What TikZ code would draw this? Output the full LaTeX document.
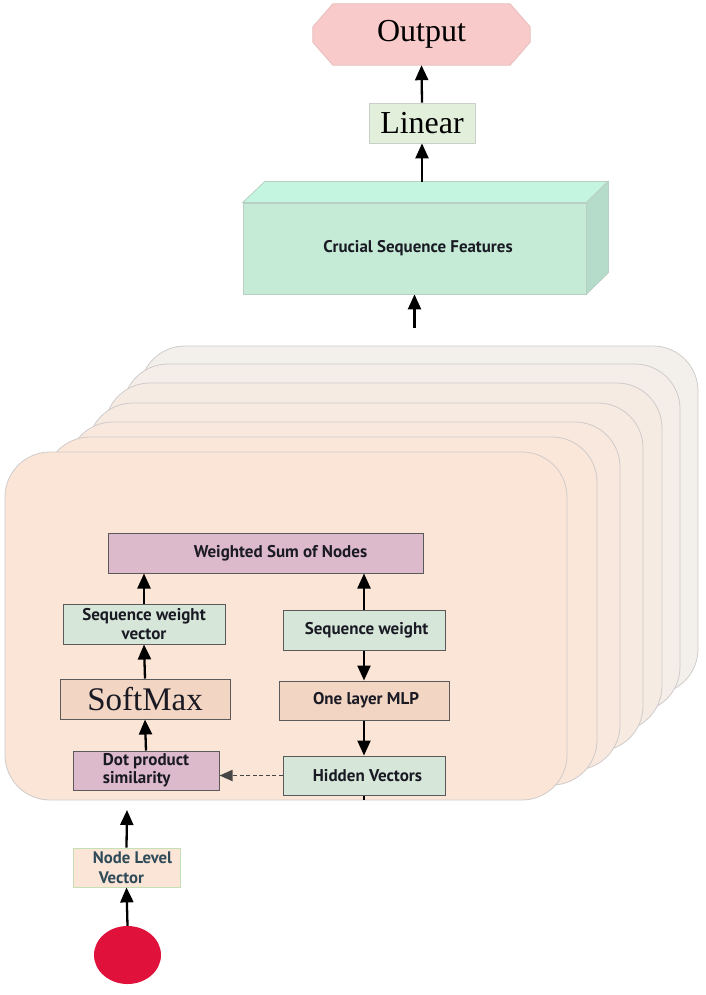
\documentclass[tikz,border=0pt]{standalone}
\usepackage{fontspec}
\setmainfont{Liberation Serif}
\newfontfamily\labfont{PT Sans}
\usetikzlibrary{arrows.meta,shapes.geometric,calc,backgrounds}
\definecolor{peach}{HTML}{FBE5D6}
\definecolor{backcard}{HTML}{F3EFEB}
\definecolor{cardedge}{HTML}{CFCBCB}
\definecolor{mauve}{HTML}{DCB9CB}
\definecolor{sage}{HTML}{D6E6D8}
\definecolor{tan}{HTML}{F2D5C2}
\definecolor{boxedge}{HTML}{5A5A5A}
\definecolor{mintfront}{HTML}{C5EBD7}
\definecolor{minttop}{HTML}{C3F5E0}
\definecolor{mintside}{HTML}{B5DCCA}
\definecolor{mintedge}{HTML}{B8D0C4}
\definecolor{pinkfill}{HTML}{F8CACA}
\definecolor{pinkedge}{HTML}{E8C0C0}
\definecolor{linfill}{HTML}{E2EFDA}
\definecolor{linedge}{HTML}{C8D0C8}
\definecolor{nlvedge}{HTML}{C5E0B4}
\definecolor{redball}{HTML}{E0123C}
\definecolor{labtext}{HTML}{1A1A24}
\definecolor{nlvtext}{HTML}{2E4A58}
\begin{document}
\begin{tikzpicture}[x=1pt,y=-1pt,
  arr/.style={line width=2.3pt,-{Triangle[length=15pt,width=13pt]}},
  dasharr/.style={line width=1.8pt,dash pattern=on 4pt off 2.5pt,gray!55!black,-{Triangle[length=13pt,width=11pt]}},
  ibox/.style={draw=boxedge,line width=1pt,inner sep=0pt,font=\labfont\bfseries\fontsize{17}{19}\selectfont,text=labtext,align=center},
  card/.style={draw=cardedge,line width=0.8pt,rounded corners=45pt}
]
\useasboundingbox (0,0) rectangle (706,995);

% stacked cards (back to front)
\def\cardL{{5,45,68,88,105,123,140}}
\def\cardR{{567,597,620,643,662,680,698}}
\def\cardT{{452,437,422,403,383,364,346}}
\foreach \i in {6,5,4,3,2,1,0}{
  \pgfmathsetmacro\L{\cardL[\i]}
  \pgfmathsetmacro\R{\cardR[\i]}
  \pgfmathsetmacro\T{\cardT[\i]}
  \pgfmathsetmacro\B{\T+348}
  \pgfmathsetmacro\mix{100-\i*16}
  \draw[card,fill=peach!\mix!backcard] (\L,\T) rectangle (\R,\B);
}

% output, linear, 3D box
\node[minimum width=217pt,minimum height=61pt,inner sep=0pt,
  font=\fontsize{32}{36}\selectfont] (out) at (421.5,34.5) {Output};
\begin{scope}[on background layer]
\draw[fill=pinkfill,draw=pinkedge,line width=0.8pt]
  ($(out.north west)+(20,0)$) -- ($(out.north east)+(-20,0)$) -- ($(out.north east)+(0,23)$)
  -- ($(out.south east)+(0,-23)$) -- ($(out.south east)+(-20,0)$) -- ($(out.south west)+(20,0)$)
  -- ($(out.south west)+(0,-23)$) -- ($(out.north west)+(0,23)$) -- cycle;
\end{scope}
\node[fill=linfill,draw=linedge,line width=0.8pt,minimum width=106pt,minimum height=40pt,inner sep=0pt,
  font=\fontsize{32}{36}\selectfont] (lin) at (422,123) {Linear};
\node[fill=mintfront,draw=mintedge,line width=0.8pt,minimum width=343pt,minimum height=91pt,inner sep=0pt,
  font=\labfont\bfseries\fontsize{16.9}{19}\selectfont,text=labtext] (csf) at (414.5,248.5) {\hspace*{7pt}Crucial Sequence Features};
\draw[fill=minttop,draw=mintedge,line width=0.8pt] (csf.north west) -- ++(22,-21) -- ++(343,0) -- (csf.north east) -- cycle;
\draw[fill=mintside,draw=mintedge,line width=0.8pt] (csf.north east) -- ++(22,-21) -- ++(0,91) -- (csf.south east) -- cycle;
\coordinate (csftop) at (422,182);
\coordinate (stackin) at (414.5,328);
\draw[arr] (csftop) -- (lin.south);
\draw[arr] (lin.north) -- (out.south);
\draw[arr] (stackin) -- (csf.south);

% inner boxes
\node[ibox,fill=mauve,minimum width=315pt,minimum height=40pt] (ws) at (265.5,553) {\hspace*{30pt}Weighted Sum of Nodes};
\node[ibox,fill=sage,minimum width=162pt,minimum height=40pt] (swv) at (144,624) {Sequence weight\\vector};
\node[ibox,fill=tan,minimum width=170pt,minimum height=40pt,font=\fontsize{33}{36}\selectfont] (sm) at (145,699) {SoftMax};
\node[ibox,fill=mauve,minimum width=146pt,minimum height=39pt,align=left,font=\labfont\bfseries\fontsize{17}{18}\selectfont] (dps) at (146,770.5) {Dot product\\similarity};
\node[ibox,fill=sage,minimum width=162pt,minimum height=40pt] (sw) at (364,630) {\hspace*{5pt}Sequence weight};
\node[ibox,fill=tan,minimum width=170pt,minimum height=39pt] (mlp) at (364,700.5) {\hspace*{4pt}One layer MLP};
\node[ibox,fill=sage,minimum width=162pt,minimum height=39pt] (hv) at (364,775.5) {\hspace*{7pt}Hidden Vectors};

\draw[arr] (dps.north) -- (sm.south);
\draw[arr] (sm.north) -- (swv.south);
\draw[arr] (swv.north) -- (swv.north |- ws.south);
\draw[arr] (sw.north) -- (sw.north |- ws.south);
\draw[arr] (sw.south) -- (mlp.north);
\draw[arr] (mlp.south) -- (hv.north);
\coordinate (hvstub) at (364,800);
\draw[line width=2.3pt] (hv.south) -- (hvstub);
\draw[dasharr] (hv.west) -- (dps.east |- hv.west);

% input
\node[fill=peach,draw=nlvedge,line width=0.8pt,minimum width=107pt,minimum height=39pt,inner sep=0pt,
  align=left,text=nlvtext,font=\labfont\bfseries\fontsize{16.7}{20}\selectfont] (nlv) at (126.5,867.5) {\hspace*{12pt}Node Level\\\hspace*{18pt}Vector};
\node[ellipse,fill=redball,minimum width=67pt,minimum height=58pt,inner sep=0pt] (ball) at (127.5,955) {};
\coordinate (nlvout) at (127,810);
\draw[arr] (ball.north) -- (nlv.south);
\draw[arr] (nlv.north) -- (nlvout);
\end{tikzpicture}
\end{document}
